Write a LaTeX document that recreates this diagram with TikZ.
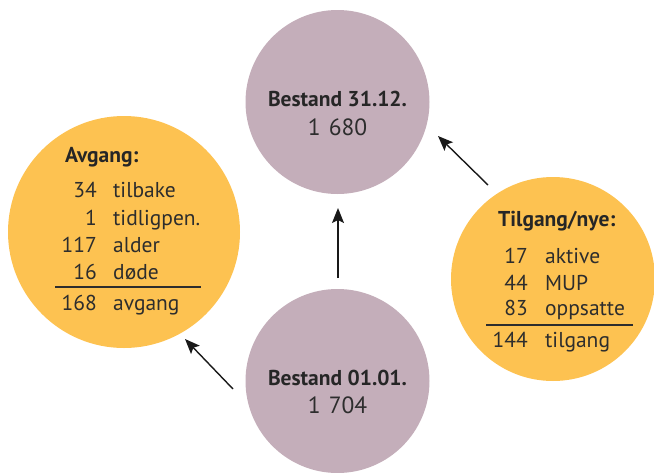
\documentclass[tikz,border=0pt]{standalone}
\usepackage{fontspec}
\setmainfont{PT Sans}
\usetikzlibrary{arrows.meta}
\definecolor{mauve}{RGB}{196,174,186}
\definecolor{gold}{RGB}{253,194,81}
\definecolor{ink}{RGB}{45,45,45}
\begin{document}
\begin{tikzpicture}[x=1pt,y=-1pt,
  bubble/.style={circle,inner sep=0pt,draw=none},
  title/.style={font=\fontsize{21.5}{21.5}\selectfont\bfseries,text=black!85,inner sep=0pt,anchor=base},
  val/.style={font=\fontsize{23.5}{23.5}\selectfont,text=ink,inner sep=0pt,anchor=base},
  num/.style={font=\fontsize{21.5}{21.5}\selectfont,text=ink,inner sep=0pt,anchor=base east},
  lab/.style={font=\fontsize{21.5}{21.5}\selectfont,text=ink,inner sep=0pt,anchor=base west},
  arr/.style={line width=1.4pt,black!90,-{Stealth[length=15pt,width=12pt,inset=3pt]}},
  rule/.style={line width=1.2pt,ink}]
\useasboundingbox (0,0) rectangle (654,472);
\begin{scope}
\clip (0,0) rectangle (654,472);
\node[bubble,fill=mauve,minimum size=184pt] (top) at (337.5,102) {};
\node[bubble,fill=mauve,minimum size=184pt] (bot) at (337.5,381) {};
\node[bubble,fill=gold,minimum size=232pt] (left) at (124,232) {};
\node[bubble,fill=gold,minimum size=204pt] (right) at (553,279) {};
\end{scope}
% top circle text
\node[title] (t1) at (337.5,106) {Bestand 31.12.};
\node[val] (t2) at (337.5,135) {1\hspace{0.35em}680};
% bottom circle text
\node[title] (b1) at (337.5,385) {Bestand 01.01.};
\node[val] (b2) at (337.5,413) {1\hspace{0.35em}704};
% left circle
\node[title,anchor=base west] (lh) at (65,162) {Avgang:};
\node[num] (ln1) at (97,197) {34};  \node[lab] (ll1) at (113,197) {tilbake};
\node[num] (ln2) at (97,225) {1};   \node[lab] (ll2) at (113,225) {tidligpen.};
\node[num] (ln3) at (97,252) {117}; \node[lab] (ll3) at (113,252) {alder};
\node[num] (ln4) at (97,279) {16};  \node[lab] (ll4) at (113,279) {døde};
\coordinate (lr1) at (55,287); \coordinate (lr2) at (201,287);
\draw[rule] (lr1) -- (lr2);
\node[num] (ln5) at (97,310) {168}; \node[lab] (ll5) at (113,310) {avgang};
% right circle
\node[title,anchor=base west] (rh) at (498,226) {Tilgang/nye:};
\node[num] (rn1) at (528,263) {17};  \node[lab] (rl1) at (545,263) {aktive};
\node[num] (rn2) at (528,290) {44};  \node[lab] (rl2) at (545,290) {MUP};
\node[num] (rn3) at (528,315) {83};  \node[lab] (rl3) at (545,315) {oppsatte};
\coordinate (rr1) at (486,325); \coordinate (rr2) at (633,325);
\draw[rule] (rr1) -- (rr2);
\node[num] (rn4) at (528,347) {144}; \node[lab] (rl4) at (545,347) {tilgang};
% arrows
\coordinate (a1s) at (338,278); \coordinate (a1e) at (338,208);
\coordinate (a2s) at (233,389); \coordinate (a2e) at (185,339);
\coordinate (a3s) at (488,185); \coordinate (a3e) at (438,136);
\draw[arr] (a1s) -- (a1e);
\draw[arr] (a2s) -- (a2e);
\draw[arr] (a3s) -- (a3e);
\end{tikzpicture}
\end{document}
